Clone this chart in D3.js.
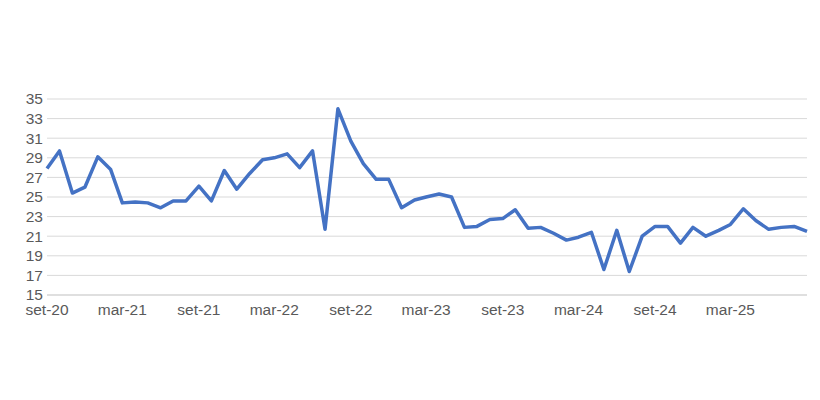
<!DOCTYPE html>
<html><head><meta charset="utf-8">
<script src="https://cdn.jsdelivr.net/npm/d3@7"></script>
<style>body{margin:0;background:#fff}text{font-family:"Liberation Sans",Arial,sans-serif}</style>
</head><body><svg id="c" width="820" height="400"></svg>
<script>
const startMonth = [2020, 8]; // set-20
const values = [27.9, 29.7, 25.4, 26.0, 29.1, 27.8, 24.4, 24.5, 24.4, 23.9, 24.6, 24.6,
  26.1, 24.6, 27.7, 25.8, 27.4, 28.8, 29.0, 29.4, 28.0, 29.7, 21.7, 34.0,
  30.7, 28.4, 26.8, 26.8, 23.9, 24.7, 25.0, 25.3, 25.0, 21.9, 22.0, 22.7,
  22.8, 23.7, 21.8, 21.9, 21.3, 20.6, 20.9, 21.4, 17.6, 21.6, 17.4, 21.0,
  22.0, 22.0, 20.3, 21.9, 21.0, 21.6, 22.2, 23.8, 22.6, 21.7, 21.9, 22.0, 21.5];
const yTicks = [15, 17, 19, 21, 23, 25, 27, 29, 31, 33, 35];
const monthNames = ["gen", "feb", "mar", "apr", "mag", "giu", "lug", "ago", "set", "ott", "nov", "dic"];

const dates = values.map((v, i) => new Date(startMonth[0], startMonth[1] + i, 1));
const data = values.map((v, i) => ({ date: dates[i], value: v }));

const svg = d3.select("#c");
const x = d3.scaleTime().domain(d3.extent(dates)).range([47, 807]);
const y = d3.scaleLinear().domain([15, 35]).range([295, 99]);

svg.append("g").selectAll("line").data(yTicks).join("line")
  .attr("x1", 47).attr("x2", 807)
  .attr("y1", d => y(d)).attr("y2", d => y(d))
  .attr("stroke", d => d === 15 ? "#bfbfbf" : "#d9d9d9").attr("stroke-width", 1);

svg.append("g").selectAll("text").data(yTicks).join("text")
  .attr("x", 43).attr("y", d => y(d)).attr("dy", "0.35em")
  .attr("text-anchor", "end").attr("fill", "#595959").attr("font-size", 15.5)
  .text(d => d);

// every 6 months, last one left out as in the original
const xTicks = dates.filter((d, i) => i % 6 === 0 && i < dates.length - 1);
svg.append("g").selectAll("text").data(xTicks).join("text")
  .attr("x", d => x(d)).attr("y", 315).attr("text-anchor", "middle")
  .attr("fill", "#595959").attr("font-size", 15.5)
  .text(d => monthNames[d.getMonth()] + "-" + String(d.getFullYear()).slice(2));

svg.append("path").datum(data)
  .attr("fill", "none").attr("stroke", "#4472c4").attr("stroke-width", 3.5)
  .attr("stroke-linejoin", "round")
  .attr("d", d3.line().x(d => x(d.date)).y(d => y(d.value)));
</script></body></html>
